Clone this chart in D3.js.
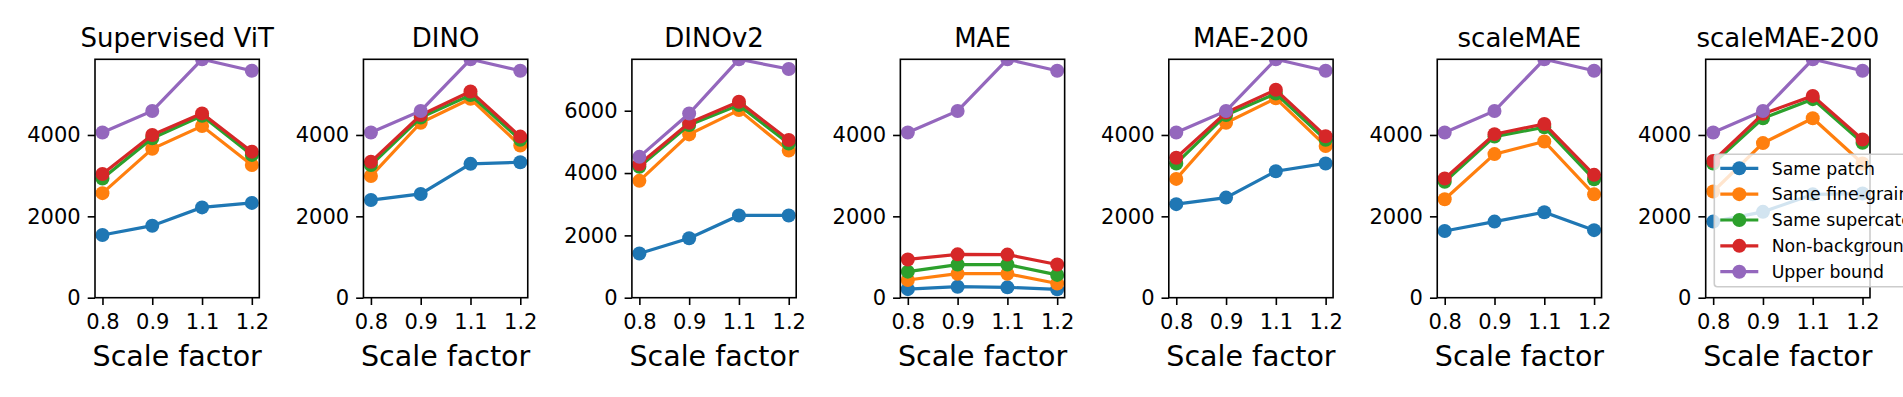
<!DOCTYPE html>
<html>
<head>
<meta charset="utf-8">
<script src="https://cdn.jsdelivr.net/npm/d3@7"></script>
<style>
  body { margin: 0; background: #fff; }
  svg { display: block; font-family: "DejaVu Sans", sans-serif; }
</style>
</head>
<body>
<div id="chart"></div>
<script>
// scale factors on the x axis
var scaleLabels = ['0.8', '0.9', '1.1', '1.2'];
var models = ['Supervised ViT', 'DINO', 'DINOv2', 'MAE', 'MAE-200', 'scaleMAE', 'scaleMAE-200'];
var seriesNames = ['Same patch', 'Same fine-grained category', 'Same supercategory', 'Non-background', 'Upper bound'];
var colors = ['#1f77b4', '#ff7f0e', '#2ca02c', '#d62728', '#9467bd'];

// one row per model, one value per scale factor
var samePatch = [
    [1540, 1770, 2220, 2330],
    [2400, 2550, 3290, 3330],
    [1420, 1910, 2640, 2640],
    [210, 270, 255, 205],
    [2300, 2460, 3110, 3300],
    [1640, 1870, 2100, 1660],
    [1870, 2110, 2540, 2560]
];
var sameFine = [
    [2570, 3660, 4220, 3260],
    [2990, 4300, 4890, 3740],
    [3750, 5240, 6020, 4720],
    [435, 590, 590, 350],
    [2920, 4300, 4900, 3730],
    [2420, 3530, 3840, 2540],
    [2610, 3800, 4410, 3300]
];
var sameSuper = [
    [2930, 3920, 4470, 3510],
    [3260, 4430, 4980, 3880],
    [4200, 5540, 6180, 4950],
    [640, 815, 815, 560],
    [3300, 4490, 5020, 3880],
    [2850, 3960, 4190, 2910],
    [3300, 4410, 4880, 3810]
];
var nonBackground = [
    [3040, 4000, 4530, 3590],
    [3340, 4490, 5070, 3960],
    [4280, 5610, 6290, 5060],
    [940, 1065, 1060, 815],
    [3440, 4550, 5110, 3970],
    [2930, 4020, 4270, 3020],
    [3360, 4520, 4960, 3890]
];
var upperBound = [
    [4060, 4590, 5860, 5580],
    [4060, 4590, 5860, 5580],
    [4520, 5910, 7650, 7340],
    [4060, 4590, 5860, 5580],
    [4060, 4590, 5860, 5580],
    [4060, 4590, 5860, 5580],
    [4060, 4590, 5860, 5580]
];

var allSeries = [samePatch, sameFine, sameSuper, nonBackground, upperBound];

var width = 1903, height = 397;
var firstLeft = 95, panelStep = 268.45, axW = 164.3;
var axTop = 59.3, axBottom = 297.7;
var dotR = 7, lineW = 3.2;

var svg = d3.select('#chart').append('svg')
    .attr('width', width)
    .attr('height', height);

var x = d3.scalePoint()
    .domain(scaleLabels)
    .range([0, axW])
    .padding(0.15);

models.forEach(function(name, m) {
    var g = svg.append('g')
        .attr('transform', 'translate(' + (firstLeft + m * panelStep) + ',0)');

    var yMax = d3.max(upperBound[m]);
    var y = d3.scaleLinear().domain([0, yMax]).range([axBottom, axTop]);

    var clipId = 'clip' + m;
    g.append('clipPath').attr('id', clipId)
        .append('rect')
        .attr('x', 0).attr('y', axTop)
        .attr('width', axW).attr('height', axBottom - axTop);

    var plot = g.append('g').attr('clip-path', 'url(#' + clipId + ')');

    var line = d3.line()
        .x(function(d, i) { return x(scaleLabels[i]); })
        .y(function(d) { return y(d); });

    allSeries.forEach(function(series, s) {
        var vals = series[m];
        plot.append('path')
            .attr('d', line(vals))
            .attr('fill', 'none')
            .attr('stroke', colors[s])
            .attr('stroke-width', lineW);
        plot.selectAll('.dot' + s)
            .data(vals)
            .enter().append('circle')
            .attr('cx', function(d, i) { return x(scaleLabels[i]); })
            .attr('cy', function(d) { return y(d); })
            .attr('r', dotR)
            .attr('fill', colors[s]);
    });

    var yAxis = d3.axisLeft(y)
        .tickValues(d3.range(0, yMax + 1, 2000))
        .tickFormat(d3.format('d'))
        .tickSize(7.3)
        .tickSizeOuter(0)
        .tickPadding(7);
    var ya = g.append('g').call(yAxis);

    var xAxis = d3.axisBottom(x)
        .tickSize(7.3)
        .tickSizeOuter(0)
        .tickPadding(9);
    var xa = g.append('g').attr('transform', 'translate(0,' + axBottom + ')').call(xAxis);

    [ya, xa].forEach(function(a) {
        a.select('.domain').remove();
        a.selectAll('line').attr('stroke', '#000').attr('stroke-width', 1.6);
        a.selectAll('text')
            .attr('fill', '#000')
            .style('font-size', '21px')
            .style('font-family', '"DejaVu Sans", sans-serif');
    });

    // frame
    g.append('rect')
        .attr('x', 0).attr('y', axTop)
        .attr('width', axW).attr('height', axBottom - axTop)
        .attr('fill', 'none')
        .attr('stroke', '#000')
        .attr('stroke-width', 1.6);

    g.append('text')
        .attr('x', axW / 2).attr('y', 47)
        .attr('text-anchor', 'middle')
        .style('font-size', '26px')
        .text(name);

    g.append('text')
        .attr('x', axW / 2).attr('y', 366)
        .attr('text-anchor', 'middle')
        .style('font-size', '28.5px')
        .text('Scale factor');
});

// legend sits in the last panel and runs off the figure edge
var legend = svg.append('g').attr('transform', 'translate(1714.3,154.3)');
legend.append('rect')
    .attr('width', 330).attr('height', 132.4)
    .attr('rx', 3)
    .attr('fill', '#fff')
    .attr('fill-opacity', 0.8)
    .attr('stroke', '#cccccc')
    .attr('stroke-width', 1.6);

seriesNames.forEach(function(label, s) {
    var ly = 14 + s * 25.85;
    legend.append('line')
        .attr('x1', 6).attr('x2', 44)
        .attr('y1', ly).attr('y2', ly)
        .attr('stroke', colors[s])
        .attr('stroke-width', lineW);
    legend.append('circle')
        .attr('cx', 25).attr('cy', ly)
        .attr('r', dotR)
        .attr('fill', colors[s]);
    legend.append('text')
        .attr('x', 57.4).attr('y', ly)
        .attr('dy', '0.36em')
        .style('font-size', '17.3px')
        .text(label);
});
</script>
</body>
</html>
